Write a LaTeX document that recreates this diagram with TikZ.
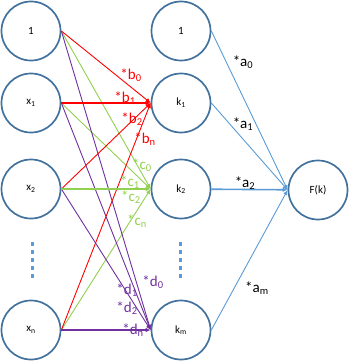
\documentclass[tikz,border=0pt]{standalone}
\usepackage{fontspec}
\setmainfont{Carlito}
\usepackage{tikz}
\usetikzlibrary{arrows.meta}
\definecolor{ringblue}{HTML}{41719C}
\definecolor{wireblue}{HTML}{5B9BD5}
\definecolor{wiregreen}{HTML}{92D050}
\definecolor{wirepurple}{HTML}{7030A0}
\definecolor{wirered}{HTML}{FF0000}

\begin{document}
\begin{tikzpicture}[x=1pt, y=-1pt,
    neuron/.style={circle, draw=ringblue, line width=1.7pt, minimum size=59pt, inner sep=0pt, font=\fontsize{11}{12}\selectfont},
    wire/.style={line width=0.9pt, -{Latex[length=5pt, width=4.5pt]}},
    flatwire/.style={wire, line width=1.6pt},
    weight/.style={font=\fontsize{15}{16}\selectfont, inner sep=0pt}]
    \useasboundingbox (0,0) rectangle (350,361);

    \node[neuron] (in0) at (31,31) {1};
    \node[neuron] (in1) at (31,103) {x\textsubscript{1}};
    \node[neuron] (in2) at (31,189) {x\textsubscript{2}};
    \node[neuron] (inn) at (31,330) {x\textsubscript{n}};
    \node[neuron] (hid0) at (181,31) {1};
    \node[neuron] (hid1) at (181,103) {k\textsubscript{1}};
    \node[neuron] (hid2) at (181,189) {k\textsubscript{2}};
    \node[neuron] (hidm) at (181,330) {k\textsubscript{m}};
    \node[neuron] (out) at (318,190) {F(k)};

    \foreach \y in {242,250,...,274} {
        \fill[wireblue] (30.5,\y) rectangle +(3.5,3.5);
        \fill[wireblue] (178.5,\y) rectangle +(3.5,3.5);
    }

    \foreach \src in {in0,in1,inn}
        \draw[wire, wiregreen] (\src.east) -- (hid2.west);
    \foreach \src in {in0,in1,in2}
        \draw[wire, wirepurple] (\src.east) -- (hidm.west);
    \foreach \src in {in0,in2,inn}
        \draw[wire, wirered] (\src.east) -- (hid1.west);
    \draw[flatwire, wirered] (in1) -- (hid1);
    \draw[flatwire, wiregreen] (in2) -- (hid2);
    \draw[flatwire, wirepurple] (inn) -- (hidm);
    \foreach \src in {hid0,hid1,hidm}
        \draw[wire, wireblue] (\src.east) -- (out.west);
    \draw[flatwire, wireblue] (hid2) -- (out);

    \node[weight, text=wirered] (b0) at (131,75) {*b\textsubscript{0}};
    \node[weight, text=wirered] (b1) at (125,98) {*b\textsubscript{1}};
    \node[weight, text=wirered] (b2) at (132,119) {*b\textsubscript{2}};
    \node[weight, text=wirered] (bn) at (145,139) {*b\textsubscript{n}};
    \node[weight, text=wiregreen] (c0) at (142,165) {*c\textsubscript{0}};
    \node[weight, text=wiregreen] (c1) at (130,182) {*c\textsubscript{1}};
    \node[weight, text=wiregreen] (c2) at (131,197) {*c\textsubscript{2}};
    \node[weight, text=wiregreen] (cn) at (137,221) {*c\textsubscript{n}};
    \node[weight, text=wirepurple] (d0) at (153,282) {*d\textsubscript{0}};
    \node[weight, text=wirepurple] (d1) at (127,290) {*d\textsubscript{1}};
    \node[weight, text=wirepurple] (d2) at (127,308) {*d\textsubscript{2}};
    \node[weight, text=wirepurple] (dn) at (133,330) {*d\textsubscript{n}};
    \node[weight] (a0) at (243,62) {*a\textsubscript{0}};
    \node[weight] (a1) at (243,124) {*a\textsubscript{1}};
    \node[weight] (a2) at (245,183) {*a\textsubscript{2}};
    \node[weight] (am) at (257,288) {*a\textsubscript{m}};
\end{tikzpicture}
\end{document}
